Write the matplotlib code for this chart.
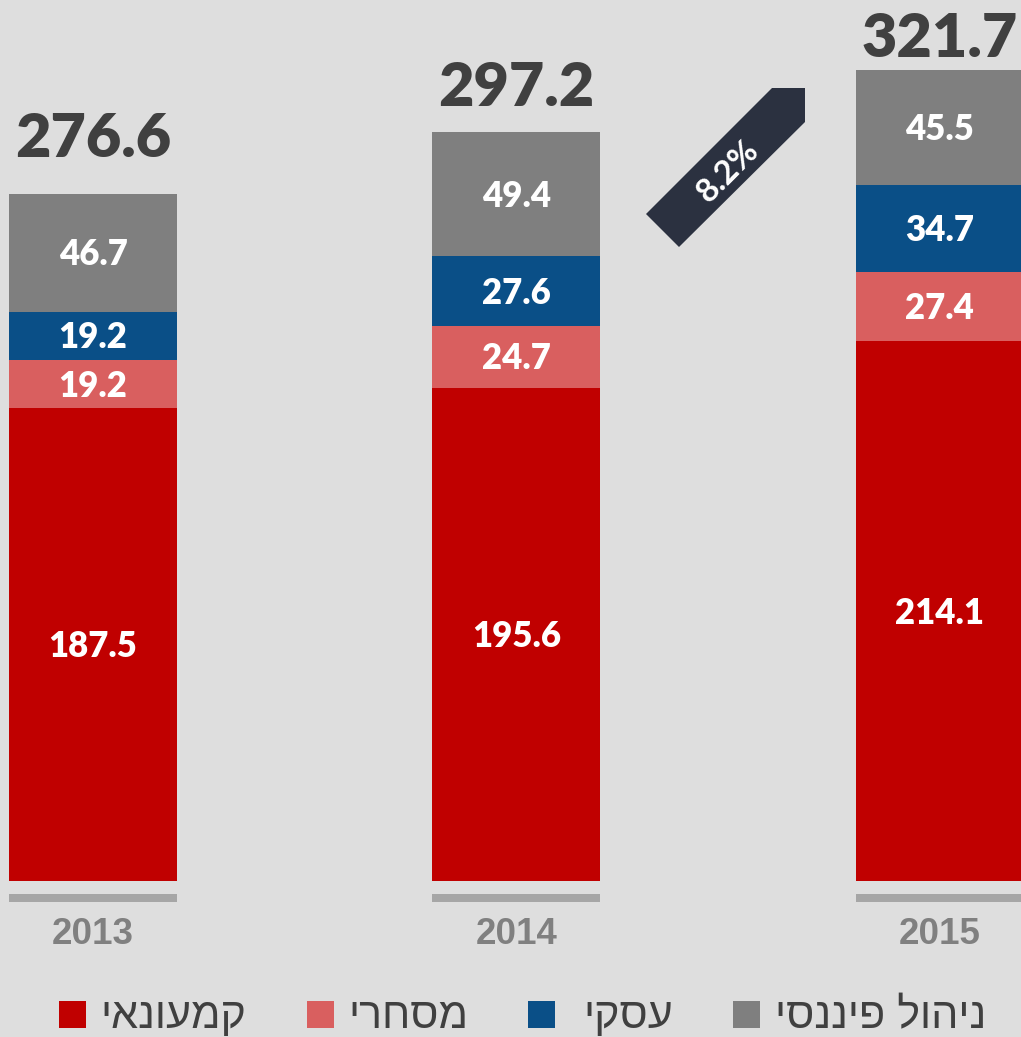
import matplotlib
matplotlib.use("Agg")
import matplotlib.pyplot as plt
from matplotlib.patches import Polygon, Rectangle
import numpy as np

# ---- data ----
years = ["2013", "2014", "2015"]
retail = [187.5, 195.6, 214.1]       # קמעונאי
commercial = [19.2, 24.7, 27.4]      # מסחרי
business = [19.2, 27.6, 34.7]        # עסקי
finance = [46.7, 49.4, 45.5]         # ניהול פיננסי
totals = ["276.6", "297.2", "321.7"]
growth_label = "8.2%"
series_names = ["קמעונאי", "מסחרי", "עסקי", "ניהול פיננסי"]

# ---- style ----
BG = "#dedede"
colors = ["#c00000", "#d95f5f", "#0a4f87", "#7f7f7f"]
W, H = 1021, 1037
fig = plt.figure(figsize=(W / 100, H / 100), dpi=100, facecolor=BG)

px_per_unit = 2.52
bottom_px = 881
ax = fig.add_axes([0, (H - bottom_px) / H, 1, bottom_px / H])
ax.set_facecolor(BG)
spacing = 423.3
xc0 = 93
ax.set_xlim(-xc0 / spacing, (W - xc0) / spacing)
ax.set_ylim(0, bottom_px / px_per_unit)
ax.axis("off")

x = np.arange(len(years))
bw = 168 / spacing
series = [retail, commercial, business, finance]
bottoms = np.zeros(len(years))
for vals, col in zip(series, colors):
    vals = np.array(vals)
    ax.bar(x, vals, bw, bottom=bottoms, color=col, linewidth=0, clip_on=False)
    for xi, b, v in zip(x, bottoms, vals):
        ax.annotate(f"{v:.1f}", (xi, b + v / 2), xytext=(0, -12.5 * 72 / 100),
                    textcoords="offset points", ha="center", va="baseline",
                    color="white", fontsize=25, fontweight="heavy", family="Lato")
    bottoms = bottoms + vals

# totals
total_offsets_px = [37, 26, 13]
for xi, top, t, off in zip(x, bottoms, totals, total_offsets_px):
    ax.annotate(t, (xi, top), xytext=(0, off * 72 / 100), textcoords="offset points",
                ha="center", va="baseline", color="#404040", fontsize=44,
                fontweight="heavy", family="Lato", annotation_clip=False)

# base gray lines
ax.bar(x, [8 / px_per_unit] * len(x), bw, bottom=-(902 - bottom_px) / px_per_unit,
       color="#a6a6a6", linewidth=0, clip_on=False)

# year labels
for xi, y in zip(x, years):
    ax.text(xi, -(935 - bottom_px) / px_per_unit, y, ha="center", va="center",
            color="#808080", fontsize=26.5, fontweight="bold",
            family="Liberation Sans", clip_on=False)

# growth arrow
poly_px = [(646, 214), (679, 247), (805, 122), (805, 88), (772, 88)]
poly = Polygon([(px / W, 1 - py / H) for px, py in poly_px], closed=True,
               transform=fig.transFigure, facecolor="#2b3140", edgecolor="none")
fig.patches.append(poly)
fig.text(728 / W, 1 - 171 / H, growth_label, rotation=45, ha="center", va="center",
         rotation_mode="anchor", color="white", fontsize=24, fontweight="bold",
         family="Lato")

# legend
sq_x = [59, 307, 528, 733]
txt_x = [100, 348, 583, 775]
for name, col, sx, tx in zip(series_names, colors, sq_x, txt_x):
    fig.patches.append(Rectangle((sx / W, 1 - 1028 / H), 27 / W, 27 / H,
                                 transform=fig.transFigure, facecolor=col,
                                 edgecolor="none"))
    fig.text(tx / W, 1 - 1028 / H, name[::-1], ha="left", va="baseline",
             color="#404040", fontsize=31,
             family=["Liberation Sans", "DejaVu Sans"])

fig.savefig("out.png", dpi=100, facecolor=BG)
